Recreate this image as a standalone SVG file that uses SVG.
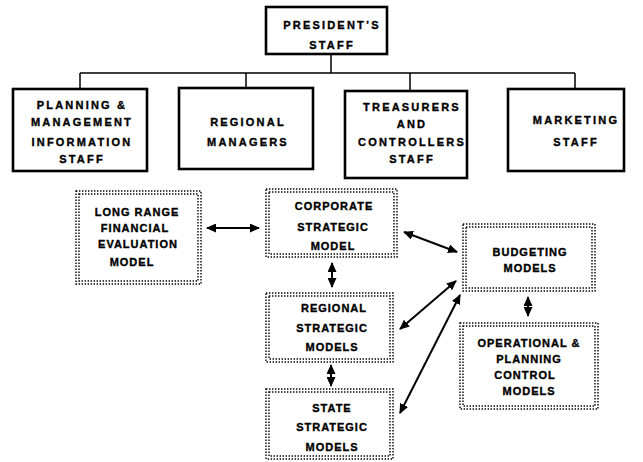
<svg xmlns="http://www.w3.org/2000/svg" width="643" height="462" viewBox="0 0 643 462">
  <defs>
    <marker id="head" markerUnits="userSpaceOnUse" markerWidth="10" markerHeight="9" refX="9" refY="4.5" orient="auto-start-reverse">
      <path d="M0,0 L10,4.5 L0,9 Z" fill="#000"/>
    </marker>
    <style>
      .solid { fill: #fff; stroke: #000; stroke-width: 2.6; }
      .dot { fill: none; stroke: #000; stroke-width: 1.4; stroke-dasharray: 1.4 1.6; }
      .tree { fill: none; stroke: #000; stroke-width: 1.5; }
      .link { fill: none; stroke: #000; stroke-width: 2; marker-start: url(#head); marker-end: url(#head); }
      text { font-family: "Liberation Sans", Arial, sans-serif; font-weight: bold; font-size: 11px; fill: #000; stroke: #000; stroke-width: 0.35; text-anchor: middle; }
      .big { letter-spacing: 2.2px; }
      .small { letter-spacing: 1px; }
    </style>
  </defs>

  <rect width="643" height="462" fill="#fff"/>

  <!-- organisation tree lines and model links -->
  <g id="connectors">
    <path class="tree" d="M331,54 V73 M80,73 H575 M80,73 V89 M246,73 V88 M410,73 V91 M575,73 V89"/>
    <line class="link" x1="207" y1="228" x2="259" y2="228"/>
    <line class="link" x1="332" y1="263" x2="332" y2="287"/>
    <line class="link" x1="331" y1="365" x2="331" y2="386"/>
    <line class="link" x1="404" y1="232" x2="457" y2="252"/>
    <line class="link" x1="400" y1="329" x2="456" y2="281"/>
    <line class="link" x1="400" y1="413" x2="460" y2="295"/>
    <line class="link" x1="528" y1="297" x2="528" y2="316"/>
  </g>

  <!-- executive staff -->
  <g id="president">
    <rect class="solid" x="266" y="7" width="121" height="47"/>
    <text class="big" x="332" y="29">PRESIDENT’S</text>
    <text class="big" x="332" y="49">STAFF</text>
  </g>

  <g id="planning">
    <rect class="solid" x="13" y="89" width="134" height="82"/>
    <text class="big" x="82" y="109">PLANNING &amp;</text>
    <text class="big" x="82" y="126">MANAGEMENT</text>
    <text class="big" x="82" y="146">INFORMATION</text>
    <text class="big" x="82" y="163">STAFF</text>
  </g>

  <g id="regional-managers">
    <rect class="solid" x="179" y="88" width="134" height="81"/>
    <text class="big" x="248" y="126">REGIONAL</text>
    <text class="big" x="248" y="146">MANAGERS</text>
  </g>

  <g id="treasurers">
    <rect class="solid" x="345" y="91" width="122" height="87"/>
    <text class="big" x="412" y="111">TREASURERS</text>
    <text class="big" x="412" y="128">AND</text>
    <text class="big" x="412" y="146">CONTROLLERS</text>
    <text class="big" x="412" y="163">STAFF</text>
  </g>

  <g id="marketing">
    <rect class="solid" x="508" y="89" width="116" height="82"/>
    <text class="big" x="576" y="124">MARKETING</text>
    <text class="big" x="576" y="146">STAFF</text>
  </g>

  <!-- planning models (double dotted outlines) -->
  <g id="long-range">
    <rect class="dot" x="76" y="191" width="125" height="93"/>
    <rect class="dot" x="79" y="194" width="119" height="87"/>
    <text class="small" x="137" y="216">LONG RANGE</text>
    <text class="small" x="135" y="232">FINANCIAL</text>
    <text class="small" x="138" y="248">EVALUATION</text>
    <text class="small" x="132" y="266">MODEL</text>
  </g>

  <g id="corporate">
    <rect class="dot" x="266" y="189" width="131" height="68"/>
    <rect class="dot" x="269" y="192" width="125" height="62"/>
    <text class="small" x="334" y="210">CORPORATE</text>
    <text class="small" x="333" y="231">STRATEGIC</text>
    <text class="small" x="333" y="250">MODEL</text>
  </g>

  <g id="regional-models">
    <rect class="dot" x="266" y="293" width="127" height="69"/>
    <rect class="dot" x="269" y="296" width="121" height="63"/>
    <text class="small" x="334" y="312">REGIONAL</text>
    <text class="small" x="332" y="332">STRATEGIC</text>
    <text class="small" x="332" y="351">MODELS</text>
  </g>

  <g id="state-models">
    <rect class="dot" x="266" y="389" width="127" height="70"/>
    <rect class="dot" x="269" y="392" width="121" height="64"/>
    <text class="small" x="332" y="412">STATE</text>
    <text class="small" x="332" y="431">STRATEGIC</text>
    <text class="small" x="332" y="451">MODELS</text>
  </g>

  <g id="budgeting">
    <rect class="dot" x="463" y="224" width="132" height="67"/>
    <rect class="dot" x="466" y="227" width="126" height="61"/>
    <text class="small" x="530" y="256">BUDGETING</text>
    <text class="small" x="530" y="272">MODELS</text>
  </g>

  <g id="operational">
    <rect class="dot" x="460" y="323" width="138" height="86"/>
    <rect class="dot" x="463" y="326" width="132" height="80"/>
    <text class="small" x="529" y="347">OPERATIONAL &amp;</text>
    <text class="small" x="529" y="363">PLANNING</text>
    <text class="small" x="525" y="379">CONTROL</text>
    <text class="small" x="529" y="395">MODELS</text>
  </g>
</svg>
